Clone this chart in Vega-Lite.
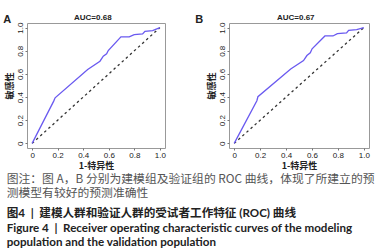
{
  "$schema": "https://vega.github.io/schema/vega-lite/v6.json",
  "padding": {"left": 2, "top": 13, "right": 0, "bottom": 0},
  "background": "white",
  "datasets": {
    "roc": [
      {"panel": "A", "fpr": 0, "tpr": 0},
      {"panel": "A", "fpr": 0.169, "tpr": 0.365},
      {"panel": "A", "fpr": 0.18, "tpr": 0.394},
      {"panel": "A", "fpr": 0.435, "tpr": 0.638},
      {"panel": "A", "fpr": 0.531, "tpr": 0.71},
      {"panel": "A", "fpr": 0.557, "tpr": 0.753},
      {"panel": "A", "fpr": 0.583, "tpr": 0.773},
      {"panel": "A", "fpr": 0.596, "tpr": 0.802},
      {"panel": "A", "fpr": 0.695, "tpr": 0.92},
      {"panel": "A", "fpr": 0.76, "tpr": 0.92},
      {"panel": "A", "fpr": 0.799, "tpr": 0.94},
      {"panel": "A", "fpr": 0.865, "tpr": 0.945},
      {"panel": "A", "fpr": 0.883, "tpr": 0.968},
      {"panel": "A", "fpr": 0.943, "tpr": 0.974},
      {"panel": "A", "fpr": 1, "tpr": 1},
      {"panel": "B", "fpr": 0, "tpr": 0},
      {"panel": "B", "fpr": 0.175, "tpr": 0.368},
      {"panel": "B", "fpr": 0.183, "tpr": 0.403},
      {"panel": "B", "fpr": 0.436, "tpr": 0.643},
      {"panel": "B", "fpr": 0.535, "tpr": 0.716},
      {"panel": "B", "fpr": 0.561, "tpr": 0.759},
      {"panel": "B", "fpr": 0.587, "tpr": 0.783},
      {"panel": "B", "fpr": 0.601, "tpr": 0.817},
      {"panel": "B", "fpr": 0.7, "tpr": 0.928},
      {"panel": "B", "fpr": 0.762, "tpr": 0.928},
      {"panel": "B", "fpr": 0.796, "tpr": 0.948},
      {"panel": "B", "fpr": 0.867, "tpr": 0.954},
      {"panel": "B", "fpr": 0.883, "tpr": 0.977},
      {"panel": "B", "fpr": 0.945, "tpr": 0.983},
      {"panel": "B", "fpr": 1, "tpr": 1}
    ],
    "diag": [{"fpr": 0, "tpr": 0}, {"fpr": 1, "tpr": 1}],
    "panels": [{"panel": "A", "auc": "AUC=0.68"}, {"panel": "B", "auc": "AUC=0.67"}]
  },
  "title": {
    "text": ["图注：图 A，B 分别为建模组及验证组的 ROC 曲线，体现了所建立的预", "测模型有较好的预测准确性"],
    "subtitle": ["图4\u00a0\u00a0|\u00a0\u00a0建模人群和验证人群的受试者工作特征 (ROC) 曲线", "Figure 4\u00a0\u00a0|\u00a0\u00a0Receiver operating characteristic curves of the modeling", "population and the validation population"],
    "orient": "bottom",
    "anchor": "start",
    "offset": 3,
    "dx": 4,
    "font": "Noto Sans CJK SC",
    "fontSize": 11.8,
    "fontWeight": "normal",
    "color": "#555555",
    "lineHeight": 14,
    "subtitleFont": "Lato, Noto Sans CJK SC",
    "subtitleFontSize": 11.6,
    "subtitleFontWeight": "bold",
    "subtitleColor": "#222222",
    "subtitleLineHeight": 14.5,
    "subtitlePadding": 9
  },
  "spacing": 28,
  "hconcat": [
    {
      "width": 138,
      "height": 125,
      "layer": [
        {"data": {"name": "diag"}, "mark": {"type": "line", "strokeDash": [2.5, 3], "color": "#333333", "strokeWidth": 1.3},
         "encoding": {
           "x": {"field": "fpr", "type": "quantitative", "scale": {"domain": [-0.04, 1.04], "nice": false, "zero": false},
                 "axis": {"title": "1-特异性", "values": [0, 0.2, 0.4, 0.6, 0.8, 1], "labelExpr": "datum.value === 0 ? '0' : format(datum.value, '.1f')"}},
           "y": {"field": "tpr", "type": "quantitative", "scale": {"domain": [-0.04, 1.04], "nice": false, "zero": false},
                 "axis": {"title": "敏感性", "values": [0, 0.2, 0.4, 0.6, 0.8, 1], "labelExpr": "datum.value === 0 ? '0' : format(datum.value, '.1f')", "labelAngle": -90, "labelAlign": "center", "labelBaseline": "bottom"}}
         }},
        {"data": {"name": "roc"}, "transform": [{"filter": "datum.panel === 'A'"}], "mark": {"type": "line", "color": "#6a5af0", "strokeWidth": 1.3},
         "encoding": {
           "x": {"field": "fpr", "type": "quantitative", "scale": {"domain": [-0.04, 1.04], "nice": false, "zero": false},
                 "axis": {"title": "1-特异性", "values": [0, 0.2, 0.4, 0.6, 0.8, 1], "labelExpr": "datum.value === 0 ? '0' : format(datum.value, '.1f')"}},
           "y": {"field": "tpr", "type": "quantitative", "scale": {"domain": [-0.04, 1.04], "nice": false, "zero": false},
                 "axis": {"title": "敏感性", "values": [0, 0.2, 0.4, 0.6, 0.8, 1], "labelExpr": "datum.value === 0 ? '0' : format(datum.value, '.1f')", "labelAngle": -90, "labelAlign": "center", "labelBaseline": "bottom"}}
         }},
        {"data": {"name": "panels"}, "transform": [{"filter": "datum.panel === 'A'"}],
         "mark": {"type": "text", "font": "Liberation Sans", "fontWeight": "bold", "fontSize": 11, "fill": "#222222"},
         "encoding": {
           "x": {"datum": -0.195, "type": "quantitative", "scale": {"domain": [-0.04, 1.04], "nice": false, "zero": false},
                 "axis": {"title": "1-特异性", "values": [0, 0.2, 0.4, 0.6, 0.8, 1], "labelExpr": "datum.value === 0 ? '0' : format(datum.value, '.1f')"}},
           "y": {"datum": 1.07, "type": "quantitative", "scale": {"domain": [-0.04, 1.04], "nice": false, "zero": false},
                 "axis": {"title": "敏感性", "values": [0, 0.2, 0.4, 0.6, 0.8, 1], "labelExpr": "datum.value === 0 ? '0' : format(datum.value, '.1f')", "labelAngle": -90, "labelAlign": "center", "labelBaseline": "bottom"}},
           "text": {"field": "panel", "type": "nominal"}}},
        {"data": {"name": "panels"}, "transform": [{"filter": "datum.panel === 'A'"}],
         "mark": {"type": "text", "font": "Liberation Sans", "fontWeight": "bold", "fontSize": 8, "fill": "#222222"},
         "encoding": {
           "x": {"datum": 0.475, "type": "quantitative", "scale": {"domain": [-0.04, 1.04], "nice": false, "zero": false},
                 "axis": {"title": "1-特异性", "values": [0, 0.2, 0.4, 0.6, 0.8, 1], "labelExpr": "datum.value === 0 ? '0' : format(datum.value, '.1f')"}},
           "y": {"datum": 1.087, "type": "quantitative", "scale": {"domain": [-0.04, 1.04], "nice": false, "zero": false},
                 "axis": {"title": "敏感性", "values": [0, 0.2, 0.4, 0.6, 0.8, 1], "labelExpr": "datum.value === 0 ? '0' : format(datum.value, '.1f')", "labelAngle": -90, "labelAlign": "center", "labelBaseline": "bottom"}},
           "text": {"field": "auc", "type": "nominal"}}}
      ]
    },
    {
      "width": 140,
      "height": 125,
      "layer": [
        {"data": {"name": "diag"}, "mark": {"type": "line", "strokeDash": [2.5, 3], "color": "#333333", "strokeWidth": 1.3},
         "encoding": {
           "x": {"field": "fpr", "type": "quantitative", "scale": {"domain": [-0.04, 1.04], "nice": false, "zero": false},
                 "axis": {"title": "1-特异性", "values": [0, 0.2, 0.4, 0.6, 0.8, 1], "labelExpr": "datum.value === 0 ? '0' : format(datum.value, '.1f')"}},
           "y": {"field": "tpr", "type": "quantitative", "scale": {"domain": [-0.04, 1.04], "nice": false, "zero": false},
                 "axis": {"title": "敏感性", "values": [0, 0.2, 0.4, 0.6, 0.8, 1], "labelExpr": "datum.value === 0 ? '0' : format(datum.value, '.1f')", "labelAngle": -90, "labelAlign": "center", "labelBaseline": "bottom"}}
         }},
        {"data": {"name": "roc"}, "transform": [{"filter": "datum.panel === 'B'"}], "mark": {"type": "line", "color": "#6a5af0", "strokeWidth": 1.3},
         "encoding": {
           "x": {"field": "fpr", "type": "quantitative", "scale": {"domain": [-0.04, 1.04], "nice": false, "zero": false},
                 "axis": {"title": "1-特异性", "values": [0, 0.2, 0.4, 0.6, 0.8, 1], "labelExpr": "datum.value === 0 ? '0' : format(datum.value, '.1f')"}},
           "y": {"field": "tpr", "type": "quantitative", "scale": {"domain": [-0.04, 1.04], "nice": false, "zero": false},
                 "axis": {"title": "敏感性", "values": [0, 0.2, 0.4, 0.6, 0.8, 1], "labelExpr": "datum.value === 0 ? '0' : format(datum.value, '.1f')", "labelAngle": -90, "labelAlign": "center", "labelBaseline": "bottom"}}
         }},
        {"data": {"name": "panels"}, "transform": [{"filter": "datum.panel === 'B'"}],
         "mark": {"type": "text", "font": "Liberation Sans", "fontWeight": "bold", "fontSize": 11, "fill": "#222222"},
         "encoding": {
           "x": {"datum": -0.27, "type": "quantitative", "scale": {"domain": [-0.04, 1.04], "nice": false, "zero": false},
                 "axis": {"title": "1-特异性", "values": [0, 0.2, 0.4, 0.6, 0.8, 1], "labelExpr": "datum.value === 0 ? '0' : format(datum.value, '.1f')"}},
           "y": {"datum": 1.07, "type": "quantitative", "scale": {"domain": [-0.04, 1.04], "nice": false, "zero": false},
                 "axis": {"title": "敏感性", "values": [0, 0.2, 0.4, 0.6, 0.8, 1], "labelExpr": "datum.value === 0 ? '0' : format(datum.value, '.1f')", "labelAngle": -90, "labelAlign": "center", "labelBaseline": "bottom"}},
           "text": {"field": "panel", "type": "nominal"}}},
        {"data": {"name": "panels"}, "transform": [{"filter": "datum.panel === 'B'"}],
         "mark": {"type": "text", "font": "Liberation Sans", "fontWeight": "bold", "fontSize": 8, "fill": "#222222"},
         "encoding": {
           "x": {"datum": 0.475, "type": "quantitative", "scale": {"domain": [-0.04, 1.04], "nice": false, "zero": false},
                 "axis": {"title": "1-特异性", "values": [0, 0.2, 0.4, 0.6, 0.8, 1], "labelExpr": "datum.value === 0 ? '0' : format(datum.value, '.1f')"}},
           "y": {"datum": 1.087, "type": "quantitative", "scale": {"domain": [-0.04, 1.04], "nice": false, "zero": false},
                 "axis": {"title": "敏感性", "values": [0, 0.2, 0.4, 0.6, 0.8, 1], "labelExpr": "datum.value === 0 ? '0' : format(datum.value, '.1f')", "labelAngle": -90, "labelAlign": "center", "labelBaseline": "bottom"}},
           "text": {"field": "auc", "type": "nominal"}}}
      ]
    }
  ],
  "resolve": {"scale": {"x": "independent", "y": "independent"}},
  "config": {
    "view": {"stroke": "#999999", "strokeWidth": 1},
    "axis": {
      "domain": false,
      "grid": false,
      "tickSize": 2,
      "tickColor": "#777777",
      "labelPadding": 1,
      "labelFont": "Liberation Sans",
      "labelFontSize": 8,
      "labelColor": "#222222",
      "titleFont": "Noto Sans CJK SC",
      "titleFontSize": 9,
      "titleFontWeight": "bold",
      "titleColor": "#222222",
      "titlePadding": 2
    }
  }
}
